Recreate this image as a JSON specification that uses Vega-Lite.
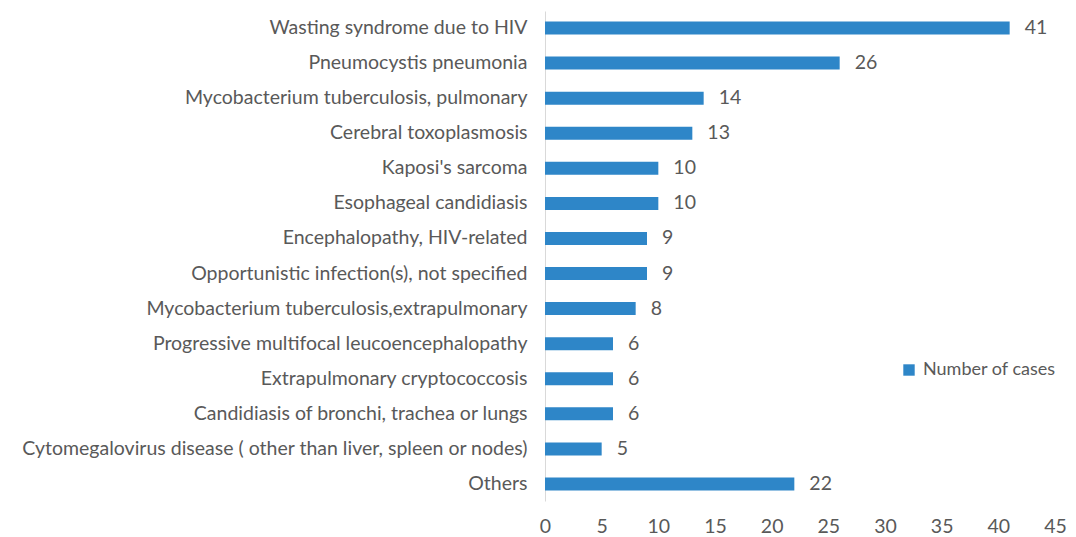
{
  "$schema": "https://vega.github.io/schema/vega-lite/v6.json",
  "width": 510,
  "height": 490,
  "autosize": "none",
  "padding": {"left": 545, "top": 11, "right": 21, "bottom": 36},
  "background": "white",
  "config": {
    "view": {"stroke": null},
    "font": "Lato",
    "axis": {"labelFont": "Lato", "labelColor": "#595959", "labelFontSize": 19.5, "grid": false, "ticks": false},
    "legend": {"labelFont": "Lato", "labelColor": "#595959", "labelFontSize": 18}
  },
  "data": {
    "values": [
      {"cause": "Wasting syndrome due to HIV ", "cases": 41},
      {"cause": "Pneumocystis pneumonia", "cases": 26},
      {"cause": "Mycobacterium tuberculosis, pulmonary", "cases": 14},
      {"cause": "Cerebral toxoplasmosis ", "cases": 13},
      {"cause": "Kaposi's sarcoma", "cases": 10},
      {"cause": "Esophageal candidiasis", "cases": 10},
      {"cause": "Encephalopathy, HIV-related", "cases": 9},
      {"cause": "Opportunistic infection(s), not specified", "cases": 9},
      {"cause": "Mycobacterium tuberculosis,extrapulmonary", "cases": 8},
      {"cause": "Progressive multifocal leucoencephalopathy", "cases": 6},
      {"cause": "Extrapulmonary cryptococcosis", "cases": 6},
      {"cause": "Candidiasis of bronchi, trachea or lungs", "cases": 6},
      {"cause": "Cytomegalovirus disease ( other than liver, spleen or nodes)", "cases": 5},
      {"cause": "Others", "cases": 22}
    ]
  },
  "encoding": {
    "y": {
      "field": "cause",
      "type": "nominal",
      "sort": null,
      "title": null,
      "scale": {"paddingInner": 0.63, "paddingOuter": 0.3},
      "axis": {"domain": true, "domainColor": "#d9d9d9", "labelPadding": 18, "labelLimit": 700}
    },
    "x": {
      "field": "cases",
      "type": "quantitative",
      "title": null,
      "scale": {"domain": [0, 45], "nice": false},
      "axis": {"values": [0, 5, 10, 15, 20, 25, 30, 35, 40, 45], "domain": false, "labelPadding": 16, "labelFlush": false}
    }
  },
  "layer": [
    {
      "mark": {"type": "bar"},
      "encoding": {
        "color": {
          "datum": "Number of cases",
          "type": "nominal",
          "scale": {"range": ["#2E86C8"]},
          "legend": {"title": null, "orient": "none", "legendX": 355, "legendY": 350, "symbolType": "square", "symbolSize": 130, "symbolStrokeWidth": 0, "labelOffset": 5}
        }
      }
    },
    {
      "mark": {"type": "text", "align": "left", "dx": 15, "fontSize": 19.5, "color": "#595959", "font": "Lato"},
      "encoding": {"text": {"field": "cases", "type": "quantitative"}}
    }
  ]
}
